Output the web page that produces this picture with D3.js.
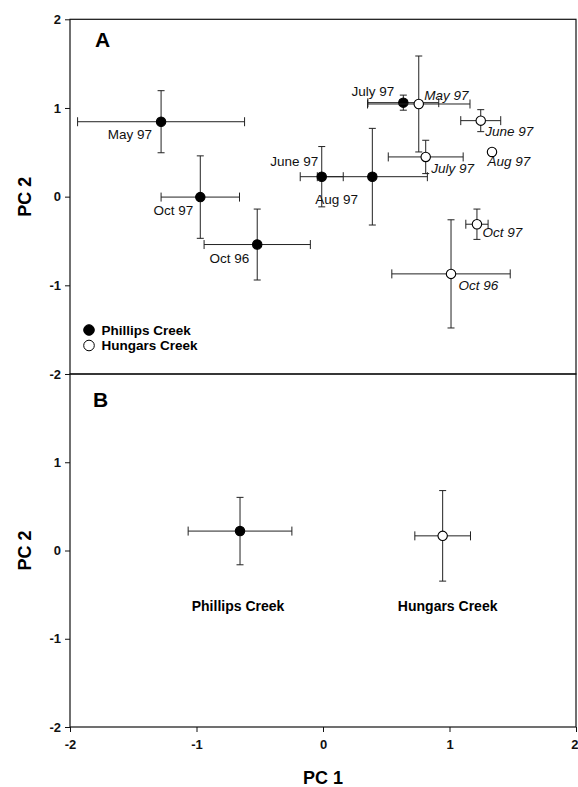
<!DOCTYPE html>
<html>
<head>
<meta charset="utf-8">
<script src="https://cdn.jsdelivr.net/npm/d3@7"></script>
<style>
  body { margin: 0; background: #fff; }
  svg { display: block; font-family: "Liberation Sans", Arial, sans-serif; }
</style>
</head>
<body>
<script>
// Panel A: seasonal means (PC1, PC2) with error bars
var phillipsMonths = ["May 97", "Oct 97", "Oct 96", "June 97", "Aug 97", "July 97"];
var phillipsPC1 = [-1.28, -0.97, -0.52, -0.01, 0.39, 0.635];
var phillipsPC1Err = [0.66, 0.31, 0.42, 0.17, 0.435, 0.28];
var phillipsPC2 = [0.845, -0.005, -0.54, 0.225, 0.225, 1.06];
var phillipsPC2Err = [0.35, 0.465, 0.40, 0.34, 0.545, 0.085];

var hungarsMonths = ["May 97", "June 97", "July 97", "Aug 97", "Oct 97", "Oct 96"];
var hungarsPC1 = [0.757, 1.247, 0.812, 1.336, 1.217, 1.012];
var hungarsPC1Err = [0.405, 0.158, 0.296, 0.0, 0.088, 0.468];
var hungarsPC2 = [1.045, 0.857, 0.448, 0.504, -0.311, -0.871];
var hungarsPC2Err = [0.541, 0.124, 0.188, 0.0, 0.171, 0.61];

// Panel B: pooled creek means
var creeks = ["Phillips Creek", "Hungars Creek"];
var creekPC1 = [-0.656, 0.946];
var creekPC1Err = [0.41, 0.22];
var creekPC2 = [0.22, 0.166];
var creekPC2Err = [0.382, 0.513];

var ticksX = [-2, -1, 0, 1, 2];
var ticksA = [-2, -1, 0, 1, 2];
var ticksB = [-2, -1, 0, 1];

// label placement (pixels from the point)
var phillipsLabelPos = {
  "May 97": [-9, 17.5], "Oct 97": [-7, 18], "Oct 96": [-8, 18.5],
  "June 97": [-3.5, -10.5], "Aug 97": [-57, 27.5], "July 97": [-9, -6.5]
};
var hungarsLabelPos = {
  "May 97": [5.5, -4], "June 97": [4.5, 15.5], "July 97": [5.5, 16.5],
  "Aug 97": [-4.5, 14], "Oct 97": [5.5, 13], "Oct 96": [7.5, 16.5]
};

var width = 578, height = 787;
var left = 70, right = 576;

var svg = d3.select("body").append("svg")
    .attr("width", width)
    .attr("height", height);

var x = d3.scaleLinear().domain([-2, 2]).range([left, right]);
var yA = d3.scaleLinear().domain([-2, 2]).range([374, 19.3]);
var yB = d3.scaleLinear().domain([-2, 2]).range([727, 374]);

function rows(names, px, pxe, py, pye) {
  return names.map(function (n, i) {
    return { name: n, x: px[i], ex: pxe[i], y: py[i], ey: pye[i] };
  });
}

var phillips = rows(phillipsMonths, phillipsPC1, phillipsPC1Err, phillipsPC2, phillipsPC2Err);
var hungars = rows(hungarsMonths, hungarsPC1, hungarsPC1Err, hungarsPC2, hungarsPC2Err);
var pooled = rows(creeks, creekPC1, creekPC1Err, creekPC2, creekPC2Err);

// frames
[yA, yB].forEach(function (y) {
  svg.append("rect")
    .attr("x", left).attr("y", y.range()[1])
    .attr("width", right - left).attr("height", y.range()[0] - y.range()[1])
    .attr("fill", "none").attr("stroke", "#111").attr("stroke-width", 1.2);
});

function styleAxis(g) {
  g.select(".domain").remove();
  g.selectAll(".tick line").attr("stroke", "#111");
  g.selectAll(".tick text")
    .attr("font-size", "13px").attr("font-weight", "bold")
    .attr("font-family", "'Liberation Sans', Arial, sans-serif").attr("fill", "#111");
}

svg.append("g")
  .attr("transform", "translate(" + left + ",0)")
  .call(d3.axisLeft(yA).tickValues(ticksA).tickSize(5).tickPadding(4).tickFormat(function (d) { return String(d); }))
  .call(styleAxis);

svg.append("g")
  .attr("transform", "translate(" + left + ",0)")
  .call(d3.axisLeft(yB).tickValues(ticksB).tickSize(5).tickPadding(4).tickFormat(function (d) { return String(d); }))
  .call(styleAxis);

var xAxis = svg.append("g")
  .attr("transform", "translate(0," + yB.range()[0] + ")")
  .call(d3.axisBottom(x).tickValues(ticksX).tickSize(5).tickPadding(8).tickFormat(function (d) { return String(d); }))
  .call(styleAxis);
// keep the last label inside the window
xAxis.selectAll(".tick text").filter(function (d) { return d === 2; })
  .attr("text-anchor", "end").attr("dx", "2px");

// axis titles
svg.append("text")
  .attr("x", x(0)).attr("y", 784)
  .attr("text-anchor", "middle")
  .attr("font-size", "18px").attr("font-weight", "bold")
  .text("PC 1");

[yA, yB].forEach(function (y) {
  svg.append("text")
    .attr("transform", "translate(31," + y(0) + ") rotate(-90)")
    .attr("text-anchor", "middle")
    .attr("font-size", "18px").attr("font-weight", "bold")
    .text("PC 2");
});

// panel letters
svg.append("text").attr("x", 95).attr("y", 46.5)
  .attr("font-size", "21px").attr("font-weight", "bold").text("A");
svg.append("text").attr("x", 93).attr("y", 407)
  .attr("font-size", "21px").attr("font-weight", "bold").text("B");

function errorBars(g, data, y) {
  var capX = 4.5, capY = 3.5;
  var bars = g.selectAll("g.err").data(data).enter().append("g")
    .attr("class", "err")
    .attr("stroke", "#222").attr("stroke-width", 1).attr("fill", "none");
  bars.append("line")
    .attr("x1", function (d) { return x(d.x - d.ex); })
    .attr("x2", function (d) { return x(d.x + d.ex); })
    .attr("y1", function (d) { return y(d.y); })
    .attr("y2", function (d) { return y(d.y); });
  bars.append("line")
    .attr("x1", function (d) { return x(d.x); })
    .attr("x2", function (d) { return x(d.x); })
    .attr("y1", function (d) { return y(d.y - d.ey); })
    .attr("y2", function (d) { return y(d.y + d.ey); });
  var withX = bars.filter(function (d) { return d.ex > 0; });
  [-1, 1].forEach(function (s) {
    withX.append("line")
      .attr("x1", function (d) { return x(d.x + s * d.ex); })
      .attr("x2", function (d) { return x(d.x + s * d.ex); })
      .attr("y1", function (d) { return y(d.y) - capX; })
      .attr("y2", function (d) { return y(d.y) + capX; });
  });
  var withY = bars.filter(function (d) { return d.ey > 0; });
  [-1, 1].forEach(function (s) {
    withY.append("line")
      .attr("x1", function (d) { return x(d.x) - capY; })
      .attr("x2", function (d) { return x(d.x) + capY; })
      .attr("y1", function (d) { return y(d.y + s * d.ey); })
      .attr("y2", function (d) { return y(d.y + s * d.ey); });
  });
}

function points(g, data, y, filled) {
  g.selectAll("circle").data(data).enter().append("circle")
    .attr("cx", function (d) { return x(d.x); })
    .attr("cy", function (d) { return y(d.y); })
    .attr("r", 4.7)
    .attr("fill", filled ? "#000" : "#fff")
    .attr("stroke", "#000").attr("stroke-width", 1.1);
}

var gP = svg.append("g"), gH = svg.append("g");
errorBars(gP, phillips, yA);
errorBars(gH, hungars, yA);
points(gP, phillips, yA, true);
points(gH, hungars, yA, false);

// month labels
svg.append("g").selectAll("text").data(phillips).enter().append("text")
  .attr("x", function (d) { return x(d.x) + phillipsLabelPos[d.name][0]; })
  .attr("y", function (d) { return yA(d.y) + phillipsLabelPos[d.name][1]; })
  .attr("text-anchor", function (d) { return d.name === "Aug 97" ? "start" : "end"; })
  .attr("font-size", "13.5px").attr("fill", "#111")
  .text(function (d) { return d.name; });

svg.append("g").selectAll("text").data(hungars).enter().append("text")
  .attr("x", function (d) { return x(d.x) + hungarsLabelPos[d.name][0]; })
  .attr("y", function (d) { return yA(d.y) + hungarsLabelPos[d.name][1]; })
  .attr("text-anchor", "start")
  .attr("font-size", "13.5px").attr("font-style", "italic").attr("fill", "#111")
  .text(function (d) { return d.name; });

// legend
var legend = svg.append("g").attr("transform", "translate(89,330)");
creeks.forEach(function (c, i) {
  legend.append("circle")
    .attr("cx", 0).attr("cy", i * 15.5)
    .attr("r", 5.3)
    .attr("fill", i === 0 ? "#000" : "#fff")
    .attr("stroke", "#000").attr("stroke-width", 1);
  legend.append("text")
    .attr("x", 12.5).attr("y", i * 15.5 + 4.5)
    .attr("font-size", "13.5px").attr("font-weight", "bold")
    .text(c);
});

// panel B
var gB = svg.append("g");
errorBars(gB, pooled, yB);
gB.selectAll("circle").data(pooled).enter().append("circle")
  .attr("cx", function (d) { return x(d.x); })
  .attr("cy", function (d) { return yB(d.y); })
  .attr("r", 4.7)
  .attr("fill", function (d, i) { return i === 0 ? "#000" : "#fff"; })
  .attr("stroke", "#000").attr("stroke-width", 1.1);

gB.selectAll("text.creek").data(pooled).enter().append("text")
  .attr("class", "creek")
  .attr("x", function (d, i) { return x(d.x) + (i === 0 ? -2 : 5); })
  .attr("y", 611)
  .attr("text-anchor", "middle")
  .attr("font-size", "14px").attr("font-weight", "bold")
  .text(function (d) { return d.name; });
</script>
</body>
</html>
